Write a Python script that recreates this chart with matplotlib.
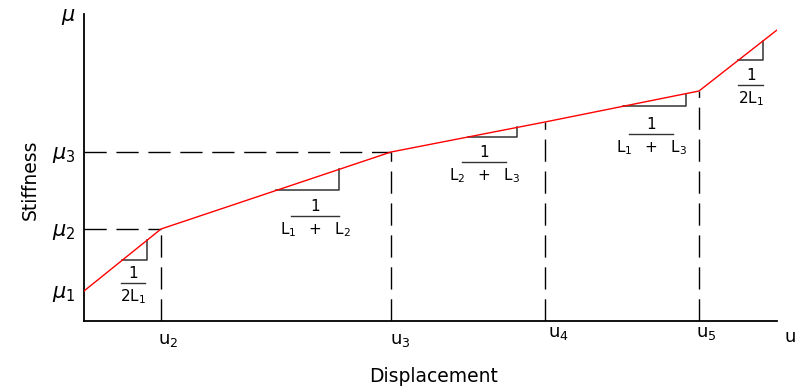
import numpy as np
import matplotlib
matplotlib.use("Agg")
from matplotlib import pyplot as plt
from matplotlib import transforms

# breakpoints of the piecewise-linear stiffness curve (diagram units)
u_pts = [0, 77, 307, 461, 615, 693]
mu_pts = [30, 92, 169, 199, 230, 291]

x_tick_pos = [77, 307, 461, 615, 693]
x_tick_labels = ["u_2", "u_3", "u_4", "u_5", "u"]
y_tick_pos = [30, 92, 169, 307]
y_tick_labels = ["\\mu_1", "\\mu_2", "\\mu_3", "\\mu"]

# slope triangles: (x start, x end) of horizontal leg, label
tri_x = [(38, 63), (192, 255), (384, 433), (539, 602), (654, 679)]
tri_num = ["1", "1", "1", "1", "1"]
tri_den = ["2L_1", "L_1\\ \\ +\\ \\ L_2", "L_2\\ \\ +\\ \\ L_3",
           "L_1\\ \\ +\\ \\ L_3", "2L_1"]

# layout of the fraction labels (centre x, bar y, half bar width)
lab_x = [49, 231, 400, 567, 667]
lab_y = [38, 105, 159, 187, 236]
lab_half = [12, 24, 22, 22, 12.5]
# x tick label offsets in pixels (dx, dy below axis)
xlab_dx = [7, 9, 13, 7, 13]
xlab_dy = [19, 19, 12, 12, 16]

fig = plt.figure(figsize=(7.97, 3.89), dpi=100)
W, H = 797.0, 389.0
ax = fig.add_axes([84 / W, (H - 321) / H, (777 - 84) / W, (321 - 14) / H])
ax.set_xlim(0, 693)
ax.set_ylim(0, 307)
ax.spines["top"].set_visible(False)
ax.spines["right"].set_visible(False)
ax.spines["left"].set_linewidth(1.3)
ax.spines["bottom"].set_linewidth(1.3)

ax.set_xticks([])
for x, s, dx, dy in zip(x_tick_pos, x_tick_labels, xlab_dx, xlab_dy):
    tr = transforms.offset_copy(ax.get_xaxis_transform(), fig=fig,
                                x=dx * 0.72, y=-dy * 0.72, units="points")
    ax.text(x, 0, "$\\mathregular{%s}$" % s, transform=tr, ha="center",
            va="center", fontsize=13, clip_on=False)

ax.set_yticks(y_tick_pos)
ax.set_yticklabels(["$%s$" % s for s in y_tick_labels], fontsize=15)
ax.tick_params(axis="y", length=0, pad=6)

# red curve
ax.plot(u_pts, mu_pts, color="red", lw=1.0, zorder=3)

dash = dict(color="black", lw=1.0, dashes=(16, 7))
# horizontal guides at mu2, mu3
ax.plot([0, u_pts[1]], [mu_pts[1], mu_pts[1]], **dash)
ax.plot([0, u_pts[2]], [mu_pts[2], mu_pts[2]], **dash)
# vertical guides
for u, m in zip(u_pts[1:5], mu_pts[1:5]):
    ax.plot([u, u], [0, m], **dash)


def curve(x):
    return np.interp(x, u_pts, mu_pts)


for i, ((xa, xb), num, den) in enumerate(zip(tri_x, tri_num, tri_den)):
    ya, yb = curve(xa), curve(xb)
    ax.plot([xa, xb, xb], [ya, ya, yb], color="#333333", lw=1.1, zorder=2)
    xc, ybar, half = lab_x[i], lab_y[i], lab_half[i]
    ax.plot([xc - half, xc + half], [ybar, ybar], color="#333333", lw=1.0)
    ax.text(xc, ybar + 2, num, ha="center", va="bottom", fontsize=11)
    ax.text(xc, ybar - 4, "$\\mathregular{%s}$" % den, ha="center", va="top",
            fontsize=11)

fig.text(30 / W, 1 - 180 / H, "Stiffness", rotation=90, ha="center",
         va="center", fontsize=13.5)
fig.text(434 / W, 1 - 377 / H, "Displacement", ha="center", va="center",
         fontsize=13.5)

fig.savefig("out.png", dpi=100)
